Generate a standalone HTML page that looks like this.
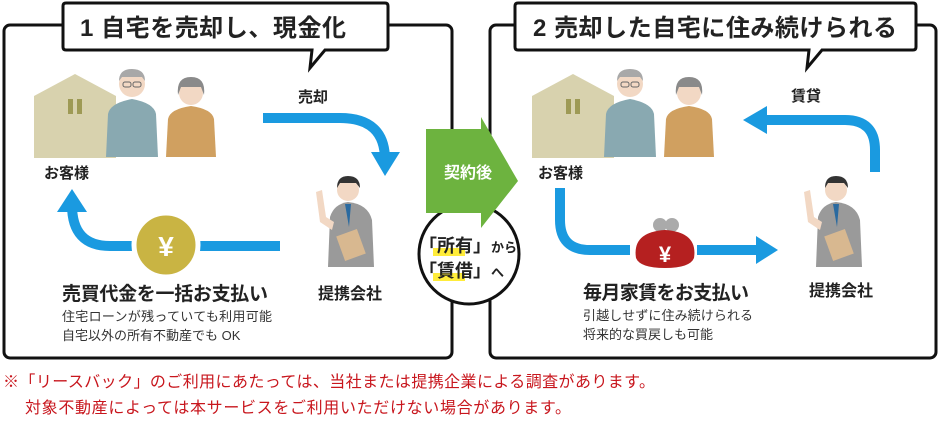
<!DOCTYPE html>
<html><head><meta charset="utf-8"><style>
body{margin:0;background:#fff;width:940px;height:418px;overflow:hidden}
text{font-family:"Liberation Sans","Noto Sans CJK JP",sans-serif}
</style></head><body>
<svg width="940" height="418" viewBox="0 0 940 418" xmlns="http://www.w3.org/2000/svg">
<defs>
<g id="house"><path d="M0,22 L41,0 L82,22 L82,84 L0,84Z" fill="#d8d2ae"/><rect x="34" y="25" width="5" height="15" fill="#9e9a55"/><rect x="43" y="25" width="5" height="15" fill="#9e9a55"/></g>
<g id="couple">
<circle cx="26" cy="15" r="13" fill="#f2d8c4"/><path d="M13,12 Q13,0 26,0 Q39,0 39,12 L36,8 L16,8Z" fill="#a8a8a8"/>
<rect x="17" y="13" width="8" height="5" rx="2" fill="none" stroke="#666" stroke-width="1"/><rect x="27" y="13" width="8" height="5" rx="2" fill="none" stroke="#666" stroke-width="1"/>
<path d="M0,88 L2,45 Q4,34 26,30 Q48,34 50,45 L52,88Z" fill="#89a9b1"/>
<circle cx="85" cy="24" r="12" fill="#f2d8c4"/><path d="M72,26 Q70,8 85,8 Q100,8 98,26 L95,18 L75,18Z" fill="#8a8a8a"/>
<path d="M60,88 L62,50 Q64,40 85,37 Q106,40 108,50 L110,88Z" fill="#d0a060"/>
</g>
<g id="staff">
<circle cx="40" cy="18" r="11" fill="#f2d8c4"/><path d="M29,16 Q29,4 40,4 Q52,4 52,16 L48,11 L32,11Z" fill="#333"/>
<path d="M20,95 L22,45 Q26,32 40,30 Q60,32 64,48 L66,95Z" fill="#9a9a9a"/>
<path d="M8,20 L14,18 L18,45 L26,50 L24,58 L12,50Z" fill="#f2d8c4"/>
<path d="M37,32 L43,32 L41,55Z" fill="#2a6aa0"/>
<rect x="32" y="60" width="22" height="26" fill="#d8b890" transform="rotate(-20 43 73)"/>
</g>
</defs>
<rect x="4" y="25" width="448" height="333" rx="6" fill="none" stroke="#111" stroke-width="3"/>
<rect x="490" y="25" width="446" height="333" rx="6" fill="none" stroke="#111" stroke-width="3"/>
<path d="M66,3 H385 Q388,3 388,6 V47 Q388,50 385,50 H325 L310,68 L312,50 H66 Q63,50 63,47 V6 Q63,3 66,3Z" fill="#fff" stroke="#111" stroke-width="3"/>
<text x="80" y="36" font-size="24" font-weight="bold" fill="#222" textLength="266">1 自宅を売却し、現金化</text>
<path d="M518,3 H913 Q916,3 916,6 V47 Q916,50 913,50 H822 L807,68 L809,50 H518 Q515,50 515,47 V6 Q515,3 518,3Z" fill="#fff" stroke="#111" stroke-width="3"/>
<text x="533" y="36" font-size="24" font-weight="bold" fill="#222" textLength="364">2 売却した自宅に住み続けられる</text>
<use href="#house" x="34" y="74"/>
<use href="#couple" x="106" y="69"/>
<text x="44" y="178" font-size="15" font-weight="bold" fill="#222">お客様</text>
<text x="298" y="102" font-size="15" font-weight="bold" fill="#222">売却</text>
<path d="M263,118 H340 Q385,118 385,160" fill="none" stroke="#1a9ae0" stroke-width="10"/>
<path d="M371,152 L385,176 L400,152Z" fill="#1a9ae0"/>
<path d="M280,246 H110 Q72,246 72,205" fill="none" stroke="#1a9ae0" stroke-width="10"/>
<path d="M57,212 L72,189 L87,212Z" fill="#1a9ae0"/>
<circle cx="166" cy="245" r="32" fill="#c9b443" stroke="#fff" stroke-width="5"/>
<text x="166" y="256" font-size="28" font-weight="bold" fill="#fff" text-anchor="middle">¥</text>
<use href="#staff" x="308" y="172"/>
<text x="318" y="299" font-size="16" font-weight="bold" fill="#222">提携会社</text>
<text x="62" y="300" font-size="19" font-weight="bold" fill="#222" textLength="206">売買代金を一括お支払い</text>
<text x="62" y="321" font-size="13" fill="#333" textLength="210">住宅ローンが残っていても利用可能</text>
<text x="62" y="340" font-size="13" fill="#333">自宅以外の所有不動産でも OK</text>
<circle cx="469" cy="254" r="50" fill="#fff" stroke="#111" stroke-width="3"/>
<path d="M426,129 H481 V117 L518,181 L481,228 V213 H426Z" fill="#6db33f"/>
<text x="468" y="178" font-size="16" font-weight="bold" fill="#fff" text-anchor="middle">契約後</text>
<rect x="433" y="248" width="32" height="8" fill="#ffec3a"/>
<rect x="433" y="273" width="32" height="8" fill="#ffec3a"/>
<text x="419" y="252" font-size="18" font-weight="bold" fill="#222">「所有」<tspan font-size="13">から</tspan></text>
<text x="419" y="277" font-size="18" font-weight="bold" fill="#222">「賃借」<tspan font-size="13">へ</tspan></text>
<use href="#house" x="532" y="74"/>
<use href="#couple" x="604" y="69"/>
<text x="538" y="178" font-size="15" font-weight="bold" fill="#222">お客様</text>
<text x="791" y="101" font-size="15" font-weight="bold" fill="#222">賃貸</text>
<path d="M875,172 V150 Q875,120 845,120 H760" fill="none" stroke="#1a9ae0" stroke-width="10"/>
<path d="M767,106 L743,120 L767,134Z" fill="#1a9ae0"/>
<path d="M560,188 V220 Q560,250 590,250 H630" fill="none" stroke="#1a9ae0" stroke-width="10"/>
<path d="M697,250 H760" fill="none" stroke="#1a9ae0" stroke-width="10"/>
<path d="M756,236 L778,250 L756,264Z" fill="#1a9ae0"/>
<circle cx="660" cy="225" r="7" fill="#aaa"/><circle cx="672" cy="225" r="7" fill="#aaa"/>
<path d="M636,258 Q632,232 665,230 Q698,232 694,258 Q690,268 665,268 Q640,268 636,258Z" fill="#b52020"/>
<text x="665" y="262" font-size="22" font-weight="bold" fill="#fff" text-anchor="middle">¥</text>
<use href="#staff" x="796" y="172"/>
<text x="809" y="296" font-size="16" font-weight="bold" fill="#222">提携会社</text>
<text x="583" y="299" font-size="19" font-weight="bold" fill="#222" textLength="166">毎月家賃をお支払い</text>
<text x="583" y="320" font-size="13" fill="#333" textLength="170">引越しせずに住み続けられる</text>
<text x="583" y="339" font-size="13" fill="#333">将来的な買戻しも可能</text>
<text x="3" y="387" font-size="16" fill="#c8161d" textLength="652">※「リースバック」のご利用にあたっては、当社または提携企業による調査があります。</text>
<text x="25" y="413" font-size="16" fill="#c8161d" textLength="546">対象不動産によっては本サービスをご利用いただけない場合があります。</text>
</svg>
</body></html>
